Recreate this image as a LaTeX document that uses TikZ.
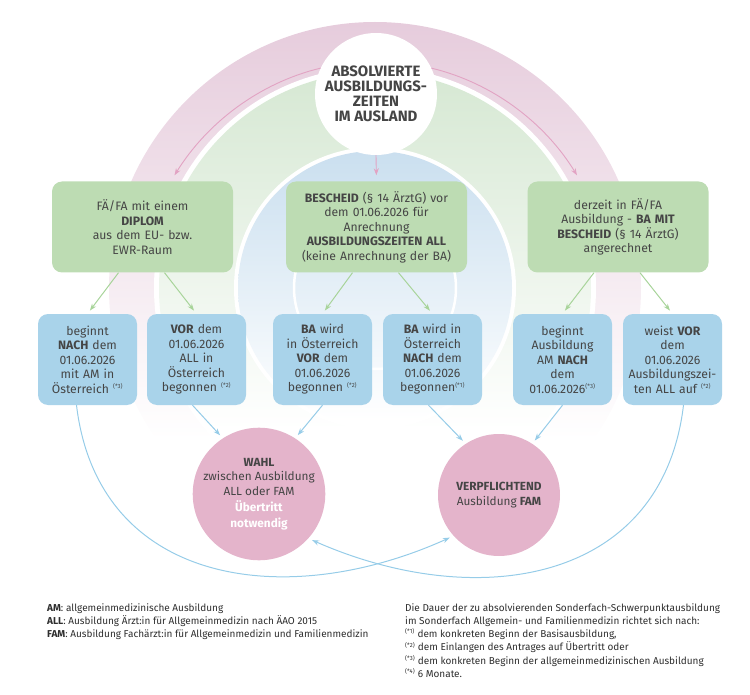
\documentclass[tikz,border=0pt]{standalone}
\usepackage{fontspec}
\setmainfont{Fira Sans}
\usetikzlibrary{arrows.meta}

\definecolor{txt}{HTML}{454545}
\definecolor{foot}{HTML}{2E2E2E}
\definecolor{ringpink}{HTML}{E6CCDC}
\definecolor{ringgreen}{HTML}{D6E8D3}
\definecolor{ringblue}{HTML}{CADFEF}
\definecolor{gboxfill}{HTML}{BDDCB3}
\definecolor{bboxfill}{HTML}{A9D3EA}
\definecolor{pcircfill}{HTML}{E4B4CB}
\definecolor{parrowcol}{HTML}{E2A3C3}
\definecolor{garrowcol}{HTML}{A8D49A}
\definecolor{barrowcol}{HTML}{96CCE8}

\newcommand\fnmark[1]{\textsuperscript{\fontsize{6}{6}\selectfont(*#1)}}

\tikzset{
  gbox/.style={fill=gboxfill, rounded corners=10pt, minimum width=181pt,
    minimum height=91pt, text width=174pt, inner sep=0pt, align=center,
    text=txt, font=\fontsize{12.2}{14.5}\selectfont},
  bbox/.style={fill=bboxfill, rounded corners=10pt, minimum width=99pt,
    minimum height=91pt, text width=98pt, inner sep=0pt, align=center,
    text=txt, font=\fontsize{12.2}{14.5}\selectfont},
  pcirc/.style={circle, fill=pcircfill, minimum size=122pt, inner sep=0pt,
    align=center, text=txt, font=\fontsize{11.8}{14.5}\selectfont},
  parrow/.style={draw=parrowcol, line width=0.9pt,
    -{Stealth[length=7pt,width=5pt]}},
  garrow/.style={draw=garrowcol, line width=1pt,
    -{Stealth[length=7pt,width=5pt]}, shorten >=4pt},
  barrow/.style={draw=barrowcol, line width=1pt,
    -{Stealth[length=7pt,width=5pt]}, shorten >=4pt},
  legend/.style={anchor=north west, align=left, inner sep=0pt, text=foot,
    font=\fontsize{10}{13.3}\selectfont}
}

\begin{document}
\begin{tikzpicture}[x=1pt, y=-1pt]
\useasboundingbox (0,0) rectangle (750,695);

% concentric rainbow rings fading out towards the bottom
\coordinate (C) at (375,288);
\begin{scope}
  \clip (C) circle[radius=266];
  \shade[top color=ringpink, middle color=ringpink!72!white, bottom color=white]
    (0,22) rectangle (750,440);
\end{scope}
\fill[white] (C) circle[radius=221];
\begin{scope}
  \clip (C) circle[radius=216];
  \shade[top color=ringgreen, middle color=ringgreen!72!white, bottom color=white]
    (0,72) rectangle (750,430);
\end{scope}
\fill[white] (C) circle[radius=141];
\begin{scope}
  \clip (C) circle[radius=137];
  \shade[top color=ringblue, middle color=ringblue!55!white, bottom color=white]
    (0,151) rectangle (750,420);
\end{scope}
\draw[white, line width=2.5pt] (C) circle[radius=81];

% central start node
\node[circle, fill=white, minimum size=122pt, inner sep=0pt, align=center,
  text=txt, font=\fontsize{15}{15}\selectfont\bfseries] (title) at (376,94)
  {ABSOLVIERTE\\AUSBILDUNGS-\\ZEITEN\\IM AUSLAND};

% first level
\node[gbox] (g1) at (142.5,227)
  {FÄ/FA mit einem\\\textbf{DIPLOM}\\aus dem EU- bzw.\\EWR-Raum};
\node[gbox] (g2) at (376.5,227)
  {\textbf{BESCHEID} (§ 14 ÄrztG) vor\\dem 01.06.2026 für\\Anrechnung\\
   \textbf{AUSBILDUNGSZEITEN ALL}\\(keine Anrechnung der BA)};
\node[gbox] (g3) at (618,227)
  {derzeit in FÄ/FA\\Ausbildung - \textbf{BA MIT}\\\textbf{BESCHEID} (§ 14 ÄrztG)\\angerechnet};

% second level
\node[bbox] (b1) at (87.5,359.5)
  {beginnt\\\textbf{NACH} dem\\01.06.2026\\mit AM in\\Österreich \fnmark{3}};
\node[bbox] (b2) at (196.5,359.5)
  {\textbf{VOR} dem\\01.06.2026\\ALL in\\Österreich\\begonnen \fnmark{2}};
\node[bbox] (b3) at (322.5,359.5)
  {\textbf{BA} wird\\in Österreich\\\textbf{VOR} dem\\01.06.2026\\begonnen \fnmark{2}};
\node[bbox] (b4) at (432.5,359.5)
  {\textbf{BA} wird in\\Österreich\\\textbf{NACH} dem\\01.06.2026\\begonnen\fnmark{1}};
\node[bbox] (b5) at (562.5,359.5)
  {beginnt\\Ausbildung\\AM \textbf{NACH}\\dem\\01.06.2026\fnmark{3}};
\node[bbox] (b6) at (672.5,359.5)
  {weist \textbf{VOR}\\dem\\01.06.2026\\Ausbildungszei-\\ten ALL auf \fnmark{2}};

% outcomes
\node[pcirc] (wahl) at (259,494)
  {\textbf{WAHL}\\zwischen Ausbildung\\ALL oder FAM\\[1.5pt]
   \textcolor{white}{\textbf{Übertritt}}\\[1.5pt]\textcolor{white}{\textbf{notwendig}}};
\node[pcirc] (verp) at (499,495)
  {\textbf{VERPFLICHTEND}\\Ausbildung \textbf{FAM}};

% connectors from the start node
\draw[parrow] (title.155) .. controls (259,83) and (207,123)
  .. ([xshift=32pt,yshift=6pt]g1.north);
\draw[parrow] (title.25) .. controls (493,83) and (545,123)
  .. ([xshift=-41pt,yshift=6pt]g3.north);
\draw[parrow, shorten >=6pt] (title.south) -- (g2.north);

% first to second level
\draw[garrow] ([xshift=-24pt]g1.south) -- (b1.north);
\draw[garrow] ([xshift=22pt]g1.south) -- (b2.north);
\draw[garrow] ([xshift=-24pt]g2.south) -- (b3.north);
\draw[garrow] ([xshift=22pt]g2.south) -- (b4.north);
\draw[garrow] ([xshift=-24pt]g3.south) -- (b5.north);
\draw[garrow] ([xshift=22pt]g3.south) -- (b6.north);

% second level to outcomes
\draw[barrow] ([xshift=-4pt]b2.south) -- (wahl.123);
\draw[barrow] (b3.south) -- (wahl.57);
\draw[barrow] ([xshift=-4pt]b4.south) -- (verp.123);
\draw[barrow] (b5.south) -- (verp.57);
\draw[barrow] ([xshift=-11pt]b1.south) .. controls (98,585) and (285,612) .. (verp.222);
\draw[barrow] ([xshift=11pt]b6.south) .. controls (662,585) and (475,612) .. (wahl.318);

% abbreviations and notes
\node[legend] (abbr) at (47,603)
  {\textbf{AM}: allgemeinmedizinische Ausbildung\\
   \textbf{ALL}: Ausbildung Ärzt:in für Allgemeinmedizin nach ÄAO 2015\\
   \textbf{FAM}: Ausbildung Fachärzt:in für Allgemeinmedizin und Familienmedizin};
\node[legend] (notes) at (405,603)
  {Die Dauer der zu absolvierenden Sonderfach-Schwerpunktausbildung\\
   im Sonderfach Allgemein- und Familienmedizin richtet sich nach:\\
   \fnmark{1} dem konkreten Beginn der Basisausbildung,\\
   \fnmark{2} dem Einlangen des Antrages auf Übertritt oder\\
   \fnmark{3} dem konkreten Beginn der allgemeinmedizinischen Ausbildung\\
   \fnmark{4} 6 Monate.};
\end{tikzpicture}
\end{document}
